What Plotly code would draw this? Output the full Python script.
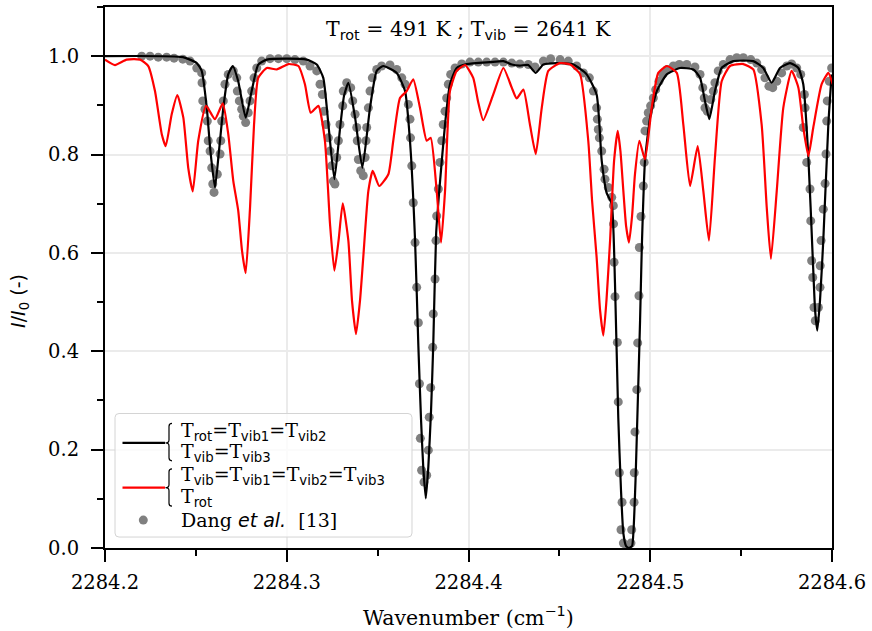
import plotly.graph_objects as go

# ---------------- data ----------------
black_x = [2284.2000, 2284.2429, 2284.2505, 2284.2532, 2284.2560, 2284.2580, 2284.2605, 2284.2627, 2284.2651, 2284.2678,
           2284.2703, 2284.2733, 2284.2774, 2284.2807, 2284.2843, 2284.2890, 2284.3000, 2284.3110, 2284.3165, 2284.3201,
           2284.3229, 2284.3262, 2284.3293, 2284.3315, 2284.3339, 2284.3376, 2284.3416, 2284.3458, 2284.3495, 2284.3531,
           2284.3605, 2284.3651, 2284.3678, 2284.3706, 2284.3724, 2284.3739, 2284.3751, 2284.3765, 2284.3779, 2284.3794,
           2284.3806, 2284.3822, 2284.3840, 2284.3871, 2284.3898, 2284.3935, 2284.3990, 2284.4118, 2284.4192, 2284.4238,
           2284.4283, 2284.4329, 2284.4370, 2284.4412, 2284.4485, 2284.4577, 2284.4650, 2284.4705, 2284.4733, 2284.4760,
           2284.4788, 2284.4806, 2284.4824, 2284.4839, 2284.4852, 2284.4867, 2284.4883, 2284.4900, 2284.4907, 2284.4919,
           2284.4929, 2284.4944, 2284.4953, 2284.4971, 2284.4999, 2284.5036, 2284.5091, 2284.5164, 2284.5237, 2284.5274,
           2284.5301, 2284.5325, 2284.5356, 2284.5393, 2284.5457, 2284.5567, 2284.5622, 2284.5668, 2284.5714, 2284.5769,
           2284.5815, 2284.5842, 2284.5870, 2284.5894, 2284.5907, 2284.5919, 2284.5934, 2284.5952, 2284.5980, 2284.5998]
black_y = [1.000, 0.998, 0.986, 0.970, 0.895, 0.807, 0.733, 0.807, 0.895, 0.963,
           0.980, 0.949, 0.875, 0.929, 0.983, 0.993, 0.995, 0.993, 0.983, 0.956,
           0.862, 0.750, 0.852, 0.919, 0.946, 0.875, 0.773, 0.895, 0.970, 0.980,
           0.966, 0.929, 0.828, 0.625, 0.412, 0.260, 0.165, 0.101, 0.165, 0.280,
           0.412, 0.640, 0.730, 0.862, 0.943, 0.976, 0.984, 0.988, 0.990, 0.983,
           0.981, 0.982, 0.966, 0.983, 0.986, 0.983, 0.963, 0.922, 0.787, 0.722,
           0.700, 0.538, 0.266, 0.118, 0.030, 0.004, 0.000, 0.004, 0.030, 0.138,
           0.266, 0.462, 0.604, 0.787, 0.875, 0.929, 0.963, 0.976, 0.973, 0.956,
           0.909, 0.872, 0.929, 0.976, 0.990, 0.990, 0.976, 0.946, 0.976, 0.986,
           0.976, 0.943, 0.794, 0.591, 0.483, 0.442, 0.503, 0.625, 0.862, 0.963]

red_x = [2284.2000, 2284.2055, 2284.2119, 2284.2193, 2284.2238, 2284.2275, 2284.2312, 2284.2334, 2284.2367, 2284.2398,
         2284.2431, 2284.2458, 2284.2483, 2284.2513, 2284.2556, 2284.2605, 2284.2648, 2284.2678, 2284.2706, 2284.2733,
         2284.2754, 2284.2774, 2284.2798, 2284.2820, 2284.2843, 2284.2890, 2284.2945, 2284.3009, 2284.3064, 2284.3100,
         2284.3132, 2284.3174, 2284.3210, 2284.3238, 2284.3262, 2284.3285, 2284.3308, 2284.3339, 2284.3359, 2284.3381,
         2284.3403, 2284.3421, 2284.3449, 2284.3473, 2284.3509, 2284.3559, 2284.3586, 2284.3623, 2284.3660, 2284.3696,
         2284.3733, 2284.3770, 2284.3792, 2284.3825, 2284.3849, 2284.3871, 2284.3898, 2284.3935, 2284.3981, 2284.4026,
         2284.4052, 2284.4081, 2284.4136, 2284.4192, 2284.4238, 2284.4265, 2284.4302, 2284.4338, 2284.4370, 2284.4403,
         2284.4439, 2284.4503, 2284.4559, 2284.4614, 2284.4659, 2284.4680, 2284.4705, 2284.4724, 2284.4742, 2284.4759,
         2284.4779, 2284.4801, 2284.4821, 2284.4836, 2284.4852, 2284.4867, 2284.4883, 2284.4900, 2284.4916, 2284.4940,
         2284.4971, 2284.5008, 2284.5044, 2284.5091, 2284.5146, 2284.5182, 2284.5219, 2284.5261, 2284.5292, 2284.5323,
         2284.5356, 2284.5393, 2284.5439, 2284.5512, 2284.5567, 2284.5613, 2284.5641, 2284.5664, 2284.5696, 2284.5732,
         2284.5778, 2284.5815, 2284.5842, 2284.5870, 2284.5897, 2284.5943, 2284.5980, 2284.6004]
red_y = [0.993, 0.982, 0.993, 0.993, 0.980, 0.929, 0.842, 0.817, 0.882, 0.921,
         0.875, 0.773, 0.725, 0.828, 0.899, 0.872, 0.904, 0.842, 0.746, 0.686,
         0.604, 0.559, 0.692, 0.861, 0.956, 0.976, 0.973, 0.984, 0.980, 0.943,
         0.885, 0.899, 0.828, 0.659, 0.564, 0.625, 0.701, 0.625, 0.503, 0.435,
         0.503, 0.591, 0.726, 0.767, 0.736, 0.760, 0.828, 0.915, 0.929, 0.953,
         0.895, 0.828, 0.834, 0.726, 0.621, 0.726, 0.929, 0.970, 0.982, 0.956,
         0.909, 0.870, 0.922, 0.976, 0.936, 0.914, 0.932, 0.861, 0.801, 0.895,
         0.970, 0.986, 0.983, 0.963, 0.828, 0.706, 0.591, 0.483, 0.432, 0.503,
         0.625, 0.787, 0.848, 0.807, 0.726, 0.655, 0.621, 0.675, 0.760, 0.828,
         0.790, 0.895, 0.966, 0.980, 0.966, 0.861, 0.736, 0.817, 0.726, 0.625,
         0.794, 0.949, 0.980, 0.984, 0.973, 0.861, 0.692, 0.588, 0.726, 0.895,
         0.970, 0.936, 0.855, 0.797, 0.855, 0.943, 0.966, 0.943]

dang_x = [2284.2202, 2284.2248, 2284.2293, 2284.2339, 2284.2380, 2284.2428, 2284.2468, 2284.2505, 2284.2532, 2284.2534,
          2284.2538, 2284.2550, 2284.2563, 2284.2568, 2284.2578, 2284.2587, 2284.2593, 2284.2600, 2284.2618, 2284.2633,
          2284.2637, 2284.2642, 2284.2651, 2284.2660, 2284.2678, 2284.2706, 2284.2725, 2284.2728, 2284.2739, 2284.2752,
          2284.2761, 2284.2774, 2284.2788, 2284.2798, 2284.2807, 2284.2820, 2284.2835, 2284.2862, 2284.2908, 2284.2954,
          2284.3000, 2284.3045, 2284.3091, 2284.3128, 2284.3165, 2284.3183, 2284.3196, 2284.3205, 2284.3216, 2284.3229,
          2284.3238, 2284.3247, 2284.3256, 2284.3265, 2284.3275, 2284.3284, 2284.3293, 2284.3308, 2284.3311, 2284.3330,
          2284.3352, 2284.3363, 2284.3376, 2284.3385, 2284.3388, 2284.3394, 2284.3407, 2284.3421, 2284.3431, 2284.3436,
          2284.3440, 2284.3449, 2284.3458, 2284.3471, 2284.3495, 2284.3522, 2284.3568, 2284.3605, 2284.3633, 2284.3651,
          2284.3669, 2284.3678, 2284.3681, 2284.3688, 2284.3696, 2284.3706, 2284.3715, 2284.3724, 2284.3730, 2284.3735,
          2284.3742, 2284.3755, 2284.3770, 2284.3779, 2284.3784, 2284.3792, 2284.3803, 2284.3806, 2284.3816, 2284.3821,
          2284.3825, 2284.3834, 2284.3843, 2284.3853, 2284.3861, 2284.3871, 2284.3880, 2284.3889, 2284.3902, 2284.3926,
          2284.3963, 2284.4008, 2284.4054, 2284.4100, 2284.4146, 2284.4192, 2284.4238, 2284.4283, 2284.4329, 2284.4366,
          2284.4412, 2284.4452, 2284.4504, 2284.4549, 2284.4595, 2284.4632, 2284.4665, 2284.4687, 2284.4705, 2284.4709,
          2284.4714, 2284.4720, 2284.4733, 2284.4746, 2284.4751, 2284.4769, 2284.4788, 2284.4797, 2284.4798, 2284.4801,
          2284.4806, 2284.4819, 2284.4824, 2284.4830, 2284.4845, 2284.4839, 2284.4852, 2284.4871, 2284.4894, 2284.4898,
          2284.4911, 2284.4912, 2284.4916, 2284.4926, 2284.4931, 2284.4938, 2284.4940, 2284.4949, 2284.4962, 2284.4967,
          2284.4971, 2284.4980, 2284.4989, 2284.5002, 2284.5017, 2284.5030, 2284.5048, 2284.5069, 2284.5094, 2284.5127,
          2284.5160, 2284.5201, 2284.5246, 2284.5274, 2284.5289, 2284.5297, 2284.5301, 2284.5314, 2284.5333, 2284.5347,
          2284.5356, 2284.5374, 2284.5402, 2284.5439, 2284.5476, 2284.5512, 2284.5553, 2284.5586, 2284.5613, 2284.5631,
          2284.5653, 2284.5674, 2284.5696, 2284.5723, 2284.5751, 2284.5778, 2284.5806, 2284.5828, 2284.5848, 2284.5852,
          2284.5842, 2284.5861, 2284.5879, 2284.5883, 2284.5888, 2284.5894, 2284.5901, 2284.5908, 2284.5925, 2284.5934,
          2284.5935, 2284.5940, 2284.5952, 2284.5962, 2284.5967, 2284.5971, 2284.5974, 2284.5985, 2284.5998]
dang_y = [1.000, 1.000, 0.998, 0.998, 0.996, 0.994, 0.990, 0.976, 0.966, 0.946,
          0.909, 0.892, 0.868, 0.828, 0.807, 0.773, 0.740, 0.723, 0.760, 0.801,
          0.828, 0.868, 0.909, 0.943, 0.963, 0.970, 0.956, 0.929, 0.909, 0.892,
          0.878, 0.865, 0.885, 0.909, 0.929, 0.956, 0.976, 0.990, 0.995, 0.995,
          0.995, 0.993, 0.990, 0.980, 0.970, 0.943, 0.922, 0.888, 0.861, 0.834,
          0.807, 0.777, 0.746, 0.740, 0.794, 0.828, 0.861, 0.899, 0.929, 0.946,
          0.936, 0.909, 0.882, 0.855, 0.828, 0.790, 0.767, 0.757, 0.794, 0.828,
          0.855, 0.895, 0.929, 0.956, 0.973, 0.980, 0.982, 0.973, 0.956, 0.943,
          0.902, 0.872, 0.834, 0.777, 0.702, 0.621, 0.530, 0.458, 0.334, 0.223,
          0.158, 0.134, 0.148, 0.199, 0.266, 0.326, 0.408, 0.476, 0.547, 0.625,
          0.675, 0.730, 0.784, 0.828, 0.861, 0.888, 0.915, 0.943, 0.963, 0.976,
          0.984, 0.988, 0.988, 0.988, 0.988, 0.988, 0.986, 0.984, 0.983, 0.978,
          0.990, 0.995, 0.993, 0.990, 0.980, 0.966, 0.956, 0.929, 0.895, 0.872,
          0.851, 0.834, 0.807, 0.770, 0.750, 0.733, 0.713, 0.696, 0.659, 0.581,
          0.511, 0.418, 0.297, 0.153, 0.093, 0.037, 0.010, 0.003, 0.010, 0.037,
          0.093, 0.153, 0.236, 0.322, 0.417, 0.513, 0.611, 0.674, 0.736, 0.784,
          0.848, 0.868, 0.885, 0.899, 0.915, 0.932, 0.949, 0.963, 0.973, 0.980,
          0.983, 0.983, 0.978, 0.963, 0.936, 0.915, 0.895, 0.888, 0.912, 0.929,
          0.946, 0.970, 0.983, 0.993, 0.997, 0.997, 0.993, 0.986, 0.973, 0.956,
          0.939, 0.936, 0.949, 0.966, 0.980, 0.984, 0.976, 0.963, 0.922, 0.895,
          0.855, 0.784, 0.730, 0.665, 0.584, 0.550, 0.489, 0.462, 0.489, 0.530,
          0.574, 0.625, 0.689, 0.741, 0.801, 0.868, 0.909, 0.949, 0.976]

x_ticks = [2284.2, 2284.3, 2284.4, 2284.5, 2284.6]
y_ticks = [0.0, 0.2, 0.4, 0.6, 0.8, 1.0]

SANS = "DejaVu Sans"
SERIF = "DejaVu Serif"


def sub(t):
    return "<sub><span style='font-family:%s'>%s</span></sub>" % (SANS, t)


title_text = "T" + sub("rot") + " = 491 K ; T" + sub("vib") + " = 2641 K"
leg_rows = [
    "T" + sub("rot") + "=T" + sub("vib1") + "=T" + sub("vib2"),
    "T" + sub("vib") + "=T" + sub("vib3"),
    "T" + sub("vib") + "=T" + sub("vib1") + "=T" + sub("vib2") + "=T" + sub("vib3"),
    "T" + sub("rot"),
    "Dang <span style='font-family:%s'><i>et al.</i></span>  [13]" % SANS,
]

# ---------------- figure geometry ----------------
W, H = 872, 631
ML, MR, MT, MB = 105, 40, 5, 83
PW, PH = W - ML - MR, H - MT - MB


def px(xp):
    return (xp - ML) / PW


def py(yp):
    return (MT + PH - yp) / PH


fig = go.Figure()
fig.add_trace(go.Scatter(x=dang_x, y=dang_y, mode="markers",
                         marker=dict(color="#808080", size=9, line=dict(width=0)),
                         name="Dang et al. [13]", showlegend=False))
fig.add_trace(go.Scatter(x=black_x, y=black_y, mode="lines",
                         line=dict(color="black", width=2.2, shape="spline", smoothing=0.5),
                         name="Trot=Tvib1=Tvib2, Tvib=Tvib3", showlegend=False))
fig.add_trace(go.Scatter(x=red_x, y=red_y, mode="lines",
                         line=dict(color="#ff0000", width=2.2, shape="spline", smoothing=0.5),
                         name="Tvib=Tvib1=Tvib2=Tvib3, Trot", showlegend=False))

axis_common = dict(
    showline=True, linecolor="black", linewidth=2, mirror=True,
    ticks="outside", ticklen=12, tickwidth=2, tickcolor="black",
    showgrid=True, gridcolor="#ebebeb", gridwidth=1.5, zeroline=False,
    tickfont=dict(family=SERIF, size=19.5, color="black"),
)

fig.update_layout(
    width=W, height=H,
    margin=dict(l=ML, r=MR, t=MT, b=MB),
    paper_bgcolor="white", plot_bgcolor="white",
    showlegend=False,
    xaxis=dict(range=[x_ticks[0], x_ticks[-1]], tickvals=x_ticks,
               ticktext=["%.1f" % v for v in x_ticks], ticklabelstandoff=4,
               minor=dict(dtick=0.05, tick0=x_ticks[0], ticks="outside", ticklen=6,
                          tickwidth=2, tickcolor="black", showgrid=False),
               **axis_common),
    yaxis=dict(range=[0, 1.1], tickvals=y_ticks,
               ticktext=["%.1f" % v for v in y_ticks], ticklabelstandoff=8,
               minor=dict(dtick=0.1, tick0=0, ticks="outside", ticklen=6,
                          tickwidth=2, tickcolor="black", showgrid=False),
               **axis_common),
)

ann = []
ann.append(dict(x=0.5, y=py(28), xref="paper", yref="paper", text=title_text,
                showarrow=False, xanchor="center", yanchor="middle",
                font=dict(family=SERIF, size=20.5, color="black")))
ann.append(dict(x=0.5, y=py(617), xref="paper", yref="paper",
                text="Wavenumber (cm<sup><span style='font-family:%s'>−1</span></sup>)" % SANS,
                showarrow=False, xanchor="center", yanchor="middle",
                font=dict(family=SERIF, size=20.5, color="black")))
ann.append(dict(x=px(20), y=py(300), xref="paper", yref="paper",
                text="<i>I</i>/<i>I</i><sub>0</sub> (-)", textangle=-90,
                showarrow=False, xanchor="center", yanchor="middle",
                font=dict(family=SANS, size=19, color="black")))

# manual legend
row_y = [431, 452, 475.5, 497.5, 519.5]
for t, yy in zip(leg_rows, row_y):
    ann.append(dict(x=px(179), y=py(yy), xref="paper", yref="paper", text=t,
                    showarrow=False, xanchor="left", yanchor="middle",
                    font=dict(family=SERIF, size=19, color="black")))
fig.update_layout(annotations=ann)

shapes = []
x0, x1, y0, y1, r = 115, 412, 413, 537, 4


def P(a, b):
    return "%.5f,%.5f" % (px(a), py(b))


frame = ("M " + P(x0 + r, y0) + " L " + P(x1 - r, y0) + " Q " + P(x1, y0) + " " + P(x1, y0 + r) +
         " L " + P(x1, y1 - r) + " Q " + P(x1, y1) + " " + P(x1 - r, y1) +
         " L " + P(x0 + r, y1) + " Q " + P(x0, y1) + " " + P(x0, y1 - r) +
         " L " + P(x0, y0 + r) + " Q " + P(x0, y0) + " " + P(x0 + r, y0) + " Z")
shapes.append(dict(type="path", path=frame, xref="paper", yref="paper",
                   fillcolor="rgba(255,255,255,0.8)", line=dict(color="#d4d4d4", width=1),
                   layer="above"))


def brace(top, mid, bot, xl=165.5, xv=169, xr=172):
    return ("M " + P(xr, top) + " Q " + P(xv, top) + " " + P(xv, top + 3) +
            " L " + P(xv, mid - 3) + " Q " + P(xv, mid) + " " + P(xl, mid) +
            " Q " + P(xv, mid) + " " + P(xv, mid + 3) +
            " L " + P(xv, bot - 3) + " Q " + P(xv, bot) + " " + P(xr, bot))


for col, top, mid, bot in [("black", 423, 442.5, 460.5), ("#ff0000", 468.5, 487.5, 506)]:
    shapes.append(dict(type="line", xref="paper", yref="paper",
                       x0=px(122.5), x1=px(165), y0=py(mid), y1=py(mid),
                       line=dict(color=col, width=2.2), layer="above"))
    shapes.append(dict(type="path", path=brace(top, mid, bot), xref="paper", yref="paper",
                       line=dict(color="black", width=1.2), layer="above"))
rr = 4.5
shapes.append(dict(type="circle", xref="paper", yref="paper",
                   x0=px(143.3 - rr), x1=px(143.3 + rr), y0=py(520 + rr), y1=py(520 - rr),
                   fillcolor="#808080", line=dict(width=0), layer="above"))
fig.update_layout(shapes=shapes)

fig.write_html("out.html")
